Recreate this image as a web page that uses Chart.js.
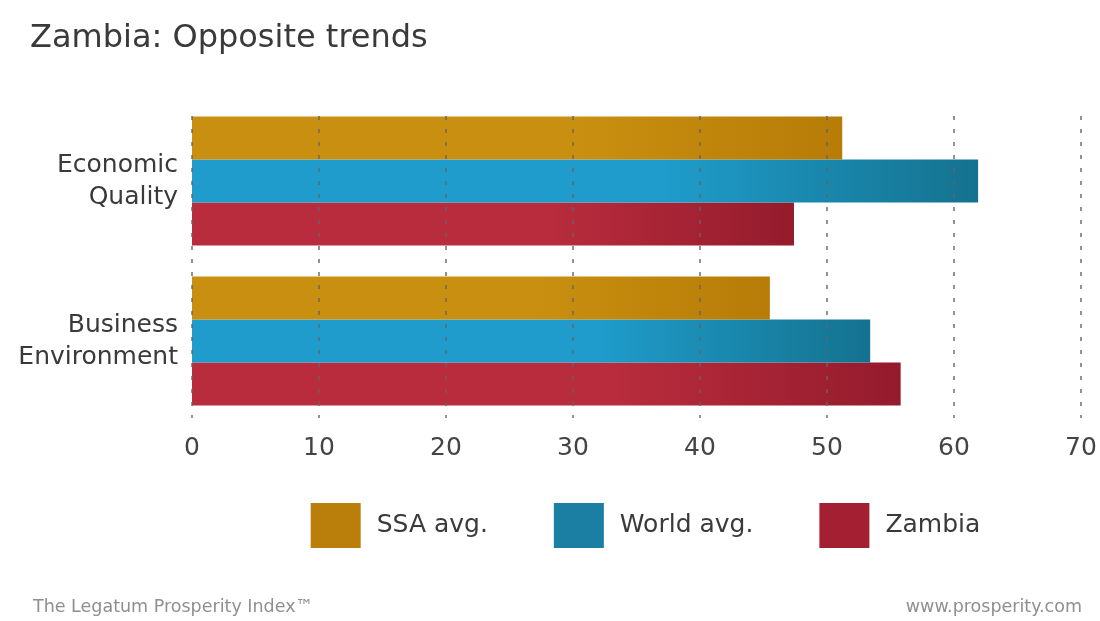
<!DOCTYPE html>
<html>
<head>
<meta charset="utf-8">
<script src="https://cdn.jsdelivr.net/npm/chart.js@4/dist/chart.umd.min.js"></script>
<style>
  html, body { margin: 0; padding: 0; background: #fff; }
  #wrap { width: 1100px; height: 621px; position: relative; }
</style>
</head>
<body>
<div id="wrap"><canvas id="c" width="1100" height="621"></canvas></div>
<script>
const categories = [["Economic", "Quality"], ["Business", "Environment"]];
const seriesNames = ["SSA avg.", "World avg.", "Zambia"];
const ssaValues = [51.2, 45.5];
const worldValues = [61.9, 53.4];
const zambiaValues = [47.4, 55.8];
const xTicks = [0, 10, 20, 30, 40, 50, 60, 70];
const titleText = "Zambia: Opposite trends";
const footerLeft = "The Legatum Prosperity Index\u2122";
const footerRight = "www.prosperity.com";

const palette = [
  { light: "#c88f10", dark: "#b67c07", legend: "#b97f0a" },
  { light: "#1f9ccb", dark: "#14728f", legend: "#1a7fa3" },
  { light: "#b82c3d", dark: "#941b2c", legend: "#a51f32" }
];
const FONT = "'DejaVu Sans', 'Open Sans', sans-serif";

function barFill(idx) {
  return function (ctx) {
    const chart = ctx.chart;
    const area = chart.chartArea;
    if (!area || ctx.type !== 'data') return palette[idx].light;
    const xs = chart.scales.x;
    const x0 = xs.getPixelForValue(0);
    const x1 = xs.getPixelForValue(ctx.raw);
    const g = chart.ctx.createLinearGradient(x0, 0, Math.max(x1, x0 + 1), 0);
    g.addColorStop(0, palette[idx].light);
    g.addColorStop(0.6, palette[idx].light);
    g.addColorStop(1, palette[idx].dark);
    return g;
  };
}

const gridOnTop = {
  id: 'gridOnTop',
  afterDatasetsDraw(chart) {
    const { ctx, chartArea } = chart;
    const xs = chart.scales.x;
    ctx.save();
    ctx.strokeStyle = 'rgba(100,100,100,0.7)';
    ctx.lineWidth = 2;
    ctx.setLineDash([4, 9]);
    xs.ticks.forEach(t => {
      const x = Math.round(xs.getPixelForValue(t.value));
      ctx.beginPath();
      ctx.moveTo(x, chartArea.top + 15);
      ctx.lineTo(x, chartArea.bottom - 3);
      ctx.stroke();
    });
    ctx.restore();
  }
};

const decor = {
  id: 'decor',
  afterDraw(chart) {
    const ctx = chart.ctx;
    ctx.save();
    // title
    ctx.fillStyle = '#3a3a3a';
    ctx.font = "32px " + FONT;
    ctx.textBaseline = 'alphabetic';
    ctx.textAlign = 'left';
    ctx.fillText(titleText, 30, 47);
    // legend
    ctx.font = "25px " + FONT;
    const boxW = 50, boxH = 45, gapText = 16, gapItem = 66;
    const widths = chart.data.datasets.map(d => ctx.measureText(d.label).width);
    let total = 0;
    widths.forEach((w, i) => { total += boxW + gapText + w + (i < widths.length - 1 ? gapItem : 0); });
    let x = 645.5 - total / 2;
    const yTop = 503;
    chart.data.datasets.forEach((d, i) => {
      ctx.fillStyle = palette[i].legend;
      ctx.fillRect(x, yTop, boxW, boxH);
      ctx.fillStyle = '#3a3a3a';
      ctx.textBaseline = 'middle';
      ctx.fillText(d.label, x + boxW + gapText, yTop + boxH / 2);
      x += boxW + gapText + widths[i] + gapItem;
    });
    // footer
    ctx.font = "17.5px " + FONT;
    ctx.fillStyle = '#8f8f8f';
    ctx.textBaseline = 'alphabetic';
    ctx.textAlign = 'left';
    ctx.fillText(footerLeft, 33, 612);
    ctx.textAlign = 'right';
    ctx.fillText(footerRight, 1082, 612);
    ctx.restore();
  }
};

new Chart(document.getElementById('c'), {
  type: 'bar',
  data: {
    labels: categories,
    datasets: [
      { label: seriesNames[0], data: ssaValues, backgroundColor: barFill(0) },
      { label: seriesNames[1], data: worldValues, backgroundColor: barFill(1) },
      { label: seriesNames[2], data: zambiaValues, backgroundColor: barFill(2) }
    ]
  },
  options: {
    indexAxis: 'y',
    responsive: false,
    animation: false,
    devicePixelRatio: 1,
    layout: { padding: { top: 101, right: 19, bottom: 160, left: 0 } },
    datasets: { bar: { barPercentage: 1.0, categoryPercentage: 0.806, borderWidth: 0 } },
    scales: {
      x: {
        min: 0, max: 70,
        afterBuildTicks(scale) { scale.ticks = xTicks.map(v => ({ value: v })); },
        afterFit(scale) { scale.height = 40; scale.paddingRight = 0; scale.paddingLeft = 0; },
        grid: { display: false, drawTicks: false },
        border: { display: false },
        ticks: { color: '#444', padding: 12, font: { family: FONT, size: 25 } }
      },
      y: {
        afterFit(scale) { scale.width = 192; },
        grid: { display: false, drawTicks: false },
        border: { display: false },
        ticks: { color: '#3a3a3a', padding: 14, font: { family: FONT, size: 25, lineHeight: 1.28 } }
      }
    },
    plugins: {
      legend: { display: false },
      title: { display: false },
      tooltip: { enabled: false }
    }
  },
  plugins: [gridOnTop, decor]
});
</script>
</body>
</html>
